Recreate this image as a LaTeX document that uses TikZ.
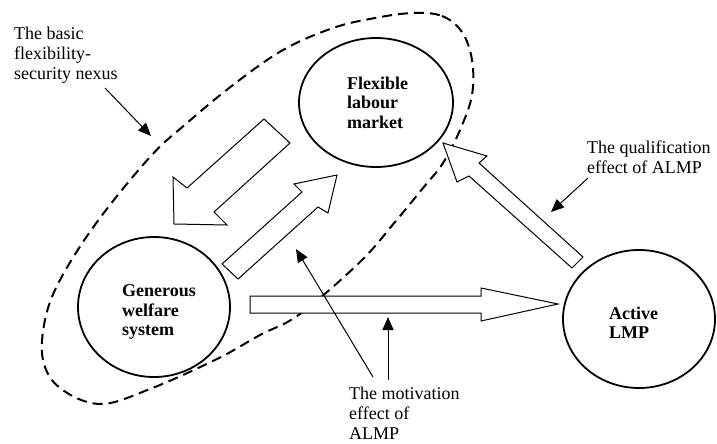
\documentclass[tikz,border=0pt]{standalone}
\usepackage{fontspec}
\setmainfont{Liberation Serif}
\usetikzlibrary{shapes.geometric,arrows.meta}
\begin{document}
\begin{tikzpicture}[x=1pt,y=-1pt,
  bubble/.style={ellipse,draw,line width=1.8pt,inner sep=0pt},
  bubbletext/.style={font=\bfseries\fontsize{18}{19.5}\selectfont,align=left,anchor=north west,inner sep=0pt},
  note/.style={font=\fontsize{18}{20}\selectfont,align=left,anchor=north west,inner sep=0pt},
  blockarrow/.style={draw,line width=1pt,fill=white,line join=miter},
  pointer/.style={line width=1pt,-{Triangle[length=13pt,width=11pt]}},
  nexusline/.style={draw,line width=2pt,dash pattern=on 10pt off 6pt}]
\useasboundingbox (0,0) rectangle (717,444);
\fill[white] (0,0) rectangle (717,444);
% dashed nexus loop
\draw[nexusline] plot[smooth cycle,tension=0.6] coordinates {
  (413,13) (442,16) (462,32) (472,60) (472,95) (460,130) (443,163) (423,188)
  (395,222) (360,262) (300,314) (260,335) (217,359) (150,389) (100,404)
  (60,388) (43,360) (45,320) (60,280) (97,222) (150,157) (187,123)
  (233,85) (283,50) (333,28) (375,18)};
% bubbles
\node[bubble,minimum width=154pt,minimum height=129pt] (flex) at (376,102.5) {};
\node[bubble,minimum width=152pt,minimum height=140pt] (welf) at (154,307) {};
\node[bubble,minimum width=152pt,minimum height=138pt] (almp) at (639,319) {};
\node[bubbletext] (flext) at (347,76.7) {Flexible\\labour\\market};
\node[bubbletext] (welft) at (122,284.7) {Generous\\welfare\\system};
\node[bubbletext] (almpt) at (609,306.7) {Active\\LMP};
% block arrows
\draw[blockarrow] (264,119) -- (290,143) -- (214,212) -- (227,225) -- (174,224) -- (173,177) -- (187,188) -- cycle;
\draw[blockarrow] (222,264) -- (302,192) -- (294,184) -- (337,175) -- (328,213) -- (318,207) -- (238,279) -- cycle;
\draw[blockarrow] (250,296) -- (481,296) -- (481,288) -- (558,304) -- (481,321) -- (481,313) -- (250,313) -- cycle;
\draw[blockarrow] (443,143) -- (487,156) -- (479,163) -- (583,257) -- (572,268) -- (469,176) -- (457,182) -- cycle;
% labels
\node[note] (nexl) at (14,26.7) {The basic\\flexibility-\\security nexus};
\node[note] (quall) at (587,140.7) {The qualification\\effect of ALMP};
\node[note] (motl) at (349,386.7) {The motivation\\effect of\\ALMP};
% pointer ends
\coordinate (nexs) at (105,88);
\coordinate (nexe) at (151,136);
\coordinate (quals) at (588,178);
\coordinate (quale) at (551,212);
\coordinate (mots1) at (388,380);
\coordinate (mote1) at (388,317);
\coordinate (mots2) at (373,377);
\coordinate (mote2) at (296,249);
\draw[pointer] (nexs) -- (nexe);
\draw[pointer] (quals) -- (quale);
\draw[pointer] (mots1) -- (mote1);
\draw[pointer] (mots2) -- (mote2);
\end{tikzpicture}
\end{document}
